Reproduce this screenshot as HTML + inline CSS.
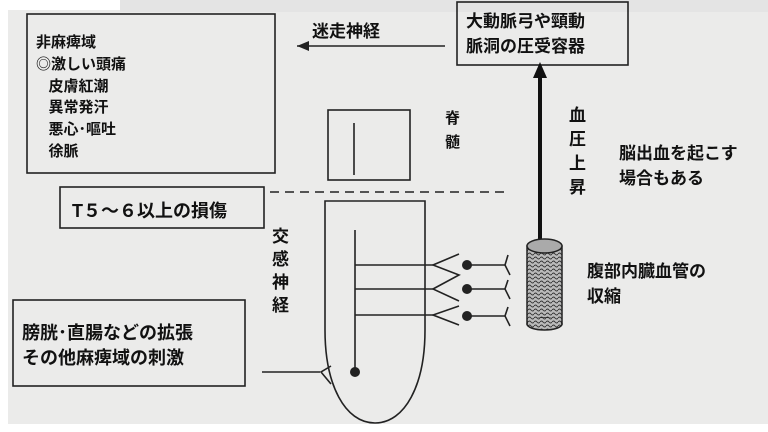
<!DOCTYPE html>
<html><head><meta charset="utf-8"><style>
body{margin:0;background:#fff}
.w{position:relative;width:768px;height:432px;overflow:hidden;background:#fff}
.bg{position:absolute;left:8px;top:10px;width:760px;height:414px;background:#ebebea}
.t{position:absolute;font-family:"Liberation Sans","Noto Sans CJK JP",sans-serif;font-weight:bold;color:#111;white-space:nowrap}
</style></head><body><div class="w">
<div class="bg"></div>
<div style="position:absolute;left:120px;top:0;width:648px;height:12px;background:#e4e4e4"></div>
<svg width="768" height="432" style="position:absolute;left:0;top:0">
<defs><pattern id="wv" width="6" height="4" patternUnits="userSpaceOnUse"><rect width="6" height="4" fill="#bbb"/><path d="M0 2 Q1.5 0 3 2 T6 2" stroke="#333" stroke-width="0.9" fill="none"/></pattern></defs>
<g fill="none" stroke="#222" stroke-width="1.6">
<rect x="27" y="14" width="248" height="159"/>
<rect x="60" y="187" width="204" height="41"/>
<rect x="13" y="300" width="232" height="86"/>
<rect x="457" y="2" width="171" height="63"/>
<rect x="328" y="110" width="82" height="70"/>
<line x1="354" y1="123" x2="354" y2="175"/>
<line x1="270" y1="192" x2="505" y2="192" stroke-dasharray="9,6"/>
<path d="M325 201 L425 201 L425 330 C425 385 405 423 375 423 C345 423 325 385 325 330 Z"/>
<line x1="355" y1="230" x2="355" y2="372"/>
<line x1="355" y1="265" x2="433" y2="265"/>
<line x1="355" y1="289" x2="433" y2="289"/>
<line x1="355" y1="315" x2="433" y2="315"/>
<path d="M459 254 L433 265 L459 275 L433 289 L459 301 M459 306 L433 315 L459 325"/>
<line x1="467" y1="265" x2="505" y2="265"/><path d="M508 255 L505 265 L510 275"/>
<line x1="467" y1="289" x2="505" y2="289"/><path d="M508 280 L505 289 L510 299"/>
<line x1="467" y1="316" x2="505" y2="316"/><path d="M508 307 L505 316 L510 326"/>
<line x1="262" y1="372" x2="320" y2="372"/><path d="M331 366 L321 372 L331 384"/>
<line x1="297" y1="46" x2="445" y2="46"/>
</g>
<polygon points="297,46 309,41 309,51" fill="#222"/>
<line x1="540" y1="240" x2="540" y2="76" stroke="#111" stroke-width="4"/>
<polygon points="540,62 533,78 547,78" fill="#111"/>
<g fill="#222"><circle cx="355" cy="372" r="5"/><circle cx="467" cy="265" r="5"/><circle cx="467" cy="289" r="5"/><circle cx="467" cy="316" r="5"/></g>
<rect x="527" y="246" width="35" height="78" fill="url(#wv)" stroke="#222" stroke-width="1.5"/>
<ellipse cx="544.5" cy="324" rx="17.5" ry="6" fill="url(#wv)" stroke="#222" stroke-width="1.5"/>
<rect x="528" y="318" width="33" height="6" fill="url(#wv)"/>
<ellipse cx="544.5" cy="246" rx="17.5" ry="7" fill="#aaa" stroke="#222" stroke-width="1.5"/>
</svg>
<div class="t" style="left:36px;top:32px;font-size:15px;line-height:21.8px">非麻痺域<br>◎激しい頭痛<br>&nbsp;&nbsp;&nbsp;皮膚紅潮<br>&nbsp;&nbsp;&nbsp;異常発汗<br>&nbsp;&nbsp;&nbsp;悪心･嘔吐<br>&nbsp;&nbsp;&nbsp;徐脈</div>
<div class="t" style="left:72px;top:197px;font-size:18px">T５～６以上の損傷</div>
<div class="t" style="left:22px;top:321px;font-size:18px;line-height:25px">膀胱･直腸などの拡張<br>その他麻痺域の刺激</div>
<div class="t" style="left:466px;top:9px;font-size:17px;line-height:25px">大動脈弓や頸動<br>脈洞の圧受容器</div>
<div class="t" style="left:312px;top:17px;font-size:17px">迷走神経</div>
<div class="t" style="left:445px;top:107px;font-size:15px;line-height:24px">脊<br>髄</div>
<div class="t" style="left:272px;top:225px;font-size:17px;line-height:23px">交<br>感<br>神<br>経</div>
<div class="t" style="left:569px;top:104px;font-size:17px;line-height:24px">血<br>圧<br>上<br>昇</div>
<div class="t" style="left:619px;top:141px;font-size:17px;line-height:25px">脳出血を起こす<br>場合もある</div>
<div class="t" style="left:587px;top:259px;font-size:17px;line-height:25px">腹部内臓血管の<br>収縮</div>
</div></body></html>
